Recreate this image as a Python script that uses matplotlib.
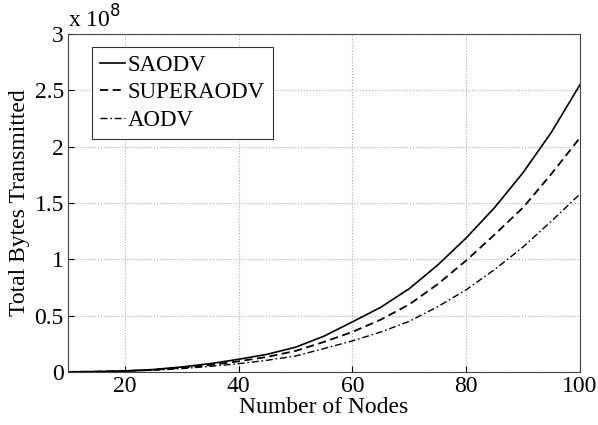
import numpy as np
import matplotlib
matplotlib.use('Agg')
import matplotlib.pyplot as plt

plt.rcParams['font.family'] = ['Liberation Serif', 'DejaVu Serif']

# Data (values in units of 1e8 bytes)
nodes = [10, 15, 20, 25, 30, 35, 40, 45, 50, 55, 60, 65, 70, 75, 80, 85, 90, 95, 100]
saodv = [0.001, 0.004, 0.010, 0.022, 0.045, 0.074, 0.113, 0.157, 0.22, 0.318, 0.445,
         0.575, 0.74, 0.95, 1.19, 1.46, 1.77, 2.13, 2.55]
superaodv = [0.001, 0.003, 0.008, 0.019, 0.038, 0.062, 0.095, 0.134, 0.187, 0.267, 0.356,
             0.465, 0.60, 0.78, 0.99, 1.22, 1.46, 1.76, 2.08]
aodv = [0.001, 0.003, 0.007, 0.015, 0.030, 0.050, 0.074, 0.104, 0.142, 0.208, 0.276,
        0.355, 0.45, 0.58, 0.73, 0.91, 1.11, 1.34, 1.58]

fig = plt.figure(figsize=(5.98, 4.25), dpi=100)
ax = fig.add_axes([68/598, 1 - 372/425, (580-68)/598, (372-34)/425])

ax.plot(nodes, np.array(saodv) * 1e8, '-', color='k', linewidth=1.2, label='SAODV')
ax.plot(nodes, np.array(superaodv) * 1e8, color='k', linewidth=1.3,
        dashes=(4.5, 2.5), label='SUPERAODV')
ax.plot(nodes, np.array(aodv) * 1e8, color='k', linewidth=1.0,
        dashes=(5, 2, 1.2, 2), label='AODV')

ax.set_xlim(10, 100)
ax.set_ylim(0, 3e8)
ax.set_xticks([20, 40, 60, 80, 100])
ax.set_yticks(np.arange(0, 3.01, 0.5) * 1e8)
ax.set_yticklabels(['0', '0.5', '1', '1.5', '2', '2.5', '3'])
ax.tick_params(direction='in', labelsize=17, length=4, pad=3)
ax.grid(True, linestyle=':', color='#aaaaaa', linewidth=0.8)
for s in ax.spines.values():
    s.set_color('#444444')

ax.set_xlabel('Number of Nodes', fontsize=17, labelpad=0)
ax.set_ylabel('Total Bytes Transmitted', fontsize=17, labelpad=3)
ax.text(0.0, 1.005, r'x 10$^{8}$', transform=ax.transAxes, fontsize=17,
        ha='left', va='bottom')

leg = ax.legend(loc='upper left', bbox_to_anchor=(0.047, 0.962), fontsize=16.5,
                handlelength=1.1, handletextpad=0.1, borderpad=0.35,
                labelspacing=0.28, borderaxespad=0, fancybox=False, framealpha=1)
leg.get_frame().set_edgecolor('#333333')
leg.get_frame().set_linewidth(0.8)

fig.savefig('out.png', dpi=100)
